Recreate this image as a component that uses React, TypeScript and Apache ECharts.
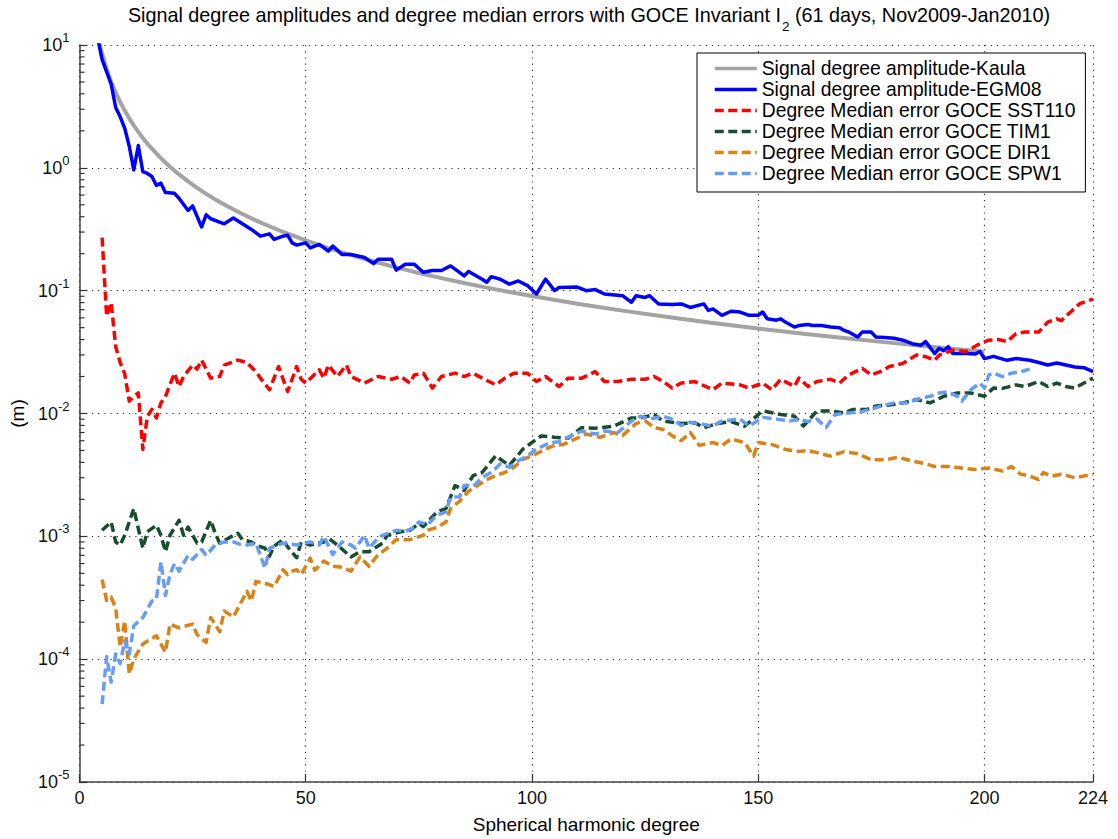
import React, { useEffect, useRef } from "react";
import * as echarts from "echarts";

// Kaula rule of thumb, signal degree amplitude (m)
const kaulaDeg = [4, 5, 6, 7, 8, 9, 10, 11, 12, 13, 14, 15, 16, 18, 20, 22, 24, 26, 28, 30, 33, 36, 40, 45, 50, 55, 60, 65, 70, 75, 80, 85, 90, 95, 100, 110, 120, 130, 140, 150, 160, 170, 180, 190, 200];
const kaulaVal = [11.96, 8.46, 6.39, 5.04, 4.11, 3.432, 2.923, 2.528, 2.215, 1.961, 1.752, 1.578, 1.431, 1.197, 1.021, 0.884, 0.775, 0.687, 0.614, 0.5535, 0.4794, 0.4205, 0.3588, 0.3004, 0.2564, 0.2221, 0.1949, 0.1728, 0.1546, 0.1393, 0.1265, 0.1154, 0.1059, 0.09767, 0.09042, 0.07836, 0.06876, 0.06097, 0.05455, 0.04918, 0.04464, 0.04075, 0.0374, 0.03449, 0.0319];

// EGM08 signal degree amplitude (m)
const egmDeg = [4, 5, 7, 8, 9, 10, 11, 12, 13, 14, 15, 16, 17, 18, 19, 21, 22, 24, 25, 27, 28, 29, 32, 34, 36, 38, 40, 42, 43, 45, 46, 47, 48, 50, 51, 53, 55, 56, 58, 60, 62, 63, 65, 66, 69, 70, 72, 74, 76, 78, 80, 82, 84, 85, 86, 89, 90, 91, 93, 95, 97, 99, 101, 103, 105, 106, 110, 112, 114, 116, 120, 122, 123, 125, 126, 128, 131, 133, 135, 138, 139, 140, 142, 144, 146, 148, 150, 151, 152, 154, 155, 156, 158, 159, 161, 162, 164, 166, 168, 169, 170, 172, 173, 175, 176, 178, 180, 182, 184, 186, 187, 189, 190, 191, 192, 193, 196, 198, 199, 200, 202, 205, 207, 210, 212, 214, 216, 218, 220, 222, 224];
const egmVal = [11.5, 7.6, 4.8, 3.1, 2.6, 2.1, 1.5, 0.96, 1.52, 0.93, 0.9, 0.85, 0.72, 0.75, 0.63, 0.62, 0.565, 0.45, 0.49, 0.33, 0.415, 0.385, 0.35, 0.39, 0.35, 0.315, 0.278, 0.29, 0.262, 0.278, 0.283, 0.245, 0.235, 0.245, 0.223, 0.238, 0.21, 0.231, 0.197, 0.197, 0.19, 0.186, 0.166, 0.18, 0.18, 0.147, 0.164, 0.164, 0.141, 0.146, 0.146, 0.159, 0.141, 0.132, 0.143, 0.124, 0.117, 0.13, 0.124, 0.113, 0.12, 0.11, 0.094, 0.124, 0.1, 0.106, 0.107, 0.1, 0.102, 0.094, 0.091, 0.0805, 0.091, 0.088, 0.091, 0.078, 0.077, 0.078, 0.073, 0.078, 0.069, 0.071, 0.063, 0.068, 0.067, 0.063, 0.063, 0.067, 0.059, 0.0575, 0.059, 0.0555, 0.0506, 0.052, 0.053, 0.052, 0.052, 0.0506, 0.05, 0.0475, 0.0461, 0.042, 0.046, 0.046, 0.042, 0.0415, 0.041, 0.0395, 0.037, 0.036, 0.0385, 0.0308, 0.0339, 0.0324, 0.035, 0.0308, 0.0308, 0.0305, 0.032, 0.028, 0.0292, 0.0271, 0.028, 0.0271, 0.026, 0.0248, 0.0258, 0.0248, 0.0239, 0.0236, 0.0219];

// GOCE SST110 degree median error (m)
const sstDeg = [5, 6, 7, 8, 9, 10, 11, 12, 13, 14, 15, 16, 17, 18, 19, 21, 22, 23, 25, 26, 27, 29, 31, 32, 35, 37, 39, 40, 42, 44, 45, 46, 48, 49, 50, 53, 54, 55, 57, 59, 60, 63, 66, 69, 71, 73, 74, 76, 78, 80, 83, 85, 87, 89, 92, 94, 96, 99, 101, 103, 106, 108, 111, 114, 116, 119, 122, 125, 127, 129, 131, 133, 136, 140, 142, 146, 148, 151, 153, 155, 158, 159, 161, 163, 166, 168, 170, 173, 175, 177, 179, 182, 185, 187, 189, 190, 193, 196, 199, 201, 203, 205, 207, 209, 212, 214, 216, 217, 219, 221, 224];
const sstVal = [0.27, 0.062, 0.08, 0.035, 0.026, 0.021, 0.0126, 0.0138, 0.0147, 0.0051, 0.0095, 0.0108, 0.0092, 0.0122, 0.0138, 0.0213, 0.0166, 0.02, 0.0248, 0.023, 0.0272, 0.0194, 0.02, 0.0248, 0.0272, 0.026, 0.0219, 0.0194, 0.0156, 0.0241, 0.019, 0.0151, 0.0241, 0.019, 0.0177, 0.0227, 0.0194, 0.0248, 0.02, 0.0248, 0.02, 0.0177, 0.02, 0.019, 0.02, 0.0177, 0.0206, 0.0213, 0.0161, 0.02, 0.0213, 0.02, 0.0213, 0.0194, 0.0171, 0.0194, 0.0213, 0.0213, 0.0182, 0.02, 0.0166, 0.0194, 0.0194, 0.0219, 0.0182, 0.0182, 0.019, 0.019, 0.02, 0.0182, 0.0161, 0.0177, 0.0182, 0.0156, 0.0177, 0.0171, 0.0161, 0.0177, 0.0156, 0.019, 0.0166, 0.0194, 0.0166, 0.0182, 0.019, 0.0177, 0.0206, 0.0233, 0.0206, 0.0219, 0.0241, 0.0256, 0.0299, 0.029, 0.0271, 0.0299, 0.0328, 0.032, 0.037, 0.0395, 0.04, 0.0385, 0.0447, 0.046, 0.046, 0.0555, 0.059, 0.057, 0.0668, 0.078, 0.0855];

// GOCE TIM1 degree median error (m)
const timDeg = [5, 7, 8, 9, 10, 12, 13, 14, 15, 17, 18, 19, 20, 22, 23, 24, 26, 27, 29, 30, 31, 33, 35, 36, 38, 39, 41, 42, 43, 45, 46, 48, 49, 51, 54, 55, 57, 60, 62, 64, 67, 68, 71, 73, 75, 76, 79, 81, 83, 85, 87, 89, 92, 95, 98, 102, 105, 108, 111, 114, 118, 122, 124, 127, 129, 133, 136, 138, 141, 144, 147, 151, 155, 158, 160, 163, 166, 169, 171, 174, 176, 179, 182, 185, 188, 191, 194, 197, 200, 202, 204, 207, 209, 212, 214, 216, 218, 220, 222, 224];
const timVal = [0.00112, 0.00131, 0.0009, 0.00085, 0.00102, 0.00168, 0.00116, 0.0008, 0.00109, 0.00123, 0.00102, 0.00075, 0.00102, 0.00135, 0.00102, 0.00119, 0.00088, 0.0009, 0.00135, 0.00106, 0.00088, 0.00097, 0.00106, 0.00094, 0.0009, 0.00085, 0.0008, 0.00069, 0.00083, 0.00094, 0.00082, 0.00067, 0.0009, 0.00085, 0.0009, 0.00097, 0.00085, 0.00068, 0.00075, 0.00075, 0.00088, 0.00102, 0.00109, 0.00112, 0.00127, 0.0012, 0.00158, 0.00168, 0.00259, 0.00236, 0.00312, 0.00331, 0.00453, 0.00376, 0.00513, 0.00656, 0.0064, 0.0063, 0.00766, 0.0076, 0.00788, 0.0092, 0.0092, 0.0098, 0.00867, 0.0083, 0.0084, 0.00766, 0.0083, 0.0086, 0.00788, 0.0105, 0.0098, 0.0095, 0.0079, 0.0105, 0.0105, 0.0101, 0.0108, 0.0108, 0.0115, 0.0117, 0.0122, 0.013, 0.0122, 0.0138, 0.0147, 0.0147, 0.0138, 0.0161, 0.016, 0.0171, 0.0166, 0.0182, 0.0166, 0.0177, 0.0166, 0.0161, 0.0177, 0.0194];

// GOCE DIR1 degree median error (m)
const dirDeg = [5, 6, 7, 8, 9, 10, 11, 12, 14, 17, 19, 20, 22, 25, 26, 28, 29, 31, 32, 34, 37, 38, 39, 42, 43, 45, 46, 47, 48, 49, 51, 52, 54, 56, 58, 60, 62, 64, 66, 68, 70, 73, 76, 77, 79, 81, 82, 84, 86, 88, 90, 92, 94, 96, 98, 100, 101, 103, 105, 107, 110, 112, 115, 118, 120, 123, 125, 127, 129, 131, 133, 135, 137, 140, 142, 144, 147, 149, 150, 153, 156, 159, 161, 163, 166, 169, 172, 175, 178, 181, 184, 187, 189, 192, 195, 198, 201, 204, 206, 208, 210, 212, 213, 215, 217, 220, 222, 224];
const dirVal = [0.000445, 0.0003, 0.00032, 0.00026, 0.000125, 0.000205, 0.000076, 0.0001, 0.000133, 0.000155, 0.000114, 0.000193, 0.00018, 0.000193, 0.000158, 0.000137, 0.000218, 0.000167, 0.000247, 0.00022, 0.000357, 0.000297, 0.00043, 0.000405, 0.00039, 0.000535, 0.000488, 0.00052, 0.000535, 0.000488, 0.000665, 0.00053, 0.00063, 0.00057, 0.00056, 0.00052, 0.00068, 0.00057, 0.00071, 0.0008, 0.00094, 0.00094, 0.00102, 0.00112, 0.00118, 0.00131, 0.00168, 0.00193, 0.00233, 0.00259, 0.0029, 0.00313, 0.00331, 0.00365, 0.00424, 0.00453, 0.0047, 0.00513, 0.0055, 0.0056, 0.0063, 0.0068, 0.0064, 0.007, 0.0066, 0.0083, 0.0087, 0.0077, 0.0074, 0.0066, 0.006, 0.007, 0.0055, 0.0058, 0.0055, 0.0062, 0.0058, 0.0045, 0.0058, 0.0056, 0.0051, 0.0049, 0.005, 0.0048, 0.0045, 0.0049, 0.0047, 0.0042, 0.0042, 0.0044, 0.0041, 0.0039, 0.0037, 0.0037, 0.0036, 0.0035, 0.0036, 0.0034, 0.0037, 0.0032, 0.0031, 0.0029, 0.0033, 0.0031, 0.0032, 0.003, 0.0031, 0.0032];

// GOCE SPW1 degree median error (m)
const spwDeg = [5, 6, 7, 8, 9, 10, 11, 12, 14, 16, 17, 18, 19, 20, 21, 22, 24, 25, 27, 28, 30, 32, 34, 36, 37, 39, 41, 42, 44, 45, 48, 51, 53, 54, 56, 58, 60, 61, 63, 64, 66, 67, 70, 72, 74, 75, 77, 79, 81, 82, 84, 85, 87, 89, 91, 93, 95, 97, 99, 101, 104, 106, 108, 111, 114, 116, 119, 122, 124, 126, 129, 131, 133, 135, 140, 142, 146, 148, 151, 154, 157, 159, 161, 163, 165, 167, 170, 173, 175, 177, 180, 183, 185, 188, 190, 192, 194, 195, 197, 199, 200, 201, 202, 204, 206, 208, 210];
const spwVal = [0.000043, 0.000105, 0.000065, 0.00011, 0.000092, 0.000141, 0.00011, 0.000187, 0.000218, 0.000297, 0.000305, 0.00062, 0.00033, 0.00049, 0.0006, 0.00052, 0.0007, 0.00065, 0.00078, 0.0007, 0.00085, 0.0009, 0.0009, 0.00085, 0.00085, 0.00088, 0.00055, 0.0008, 0.00085, 0.00088, 0.00085, 0.0009, 0.00085, 0.001, 0.00071, 0.0009, 0.00085, 0.0008, 0.00102, 0.0008, 0.00097, 0.00102, 0.00112, 0.0011, 0.00118, 0.00131, 0.00125, 0.00149, 0.00158, 0.00208, 0.0021, 0.00259, 0.00255, 0.00302, 0.00331, 0.00388, 0.00365, 0.00412, 0.00453, 0.00513, 0.00579, 0.0059, 0.0064, 0.0072, 0.0068, 0.0072, 0.007, 0.0087, 0.0095, 0.009, 0.0095, 0.009, 0.008, 0.0085, 0.0079, 0.0087, 0.009, 0.0079, 0.0093, 0.009, 0.0087, 0.009, 0.0086, 0.009, 0.0077, 0.0098, 0.0101, 0.0104, 0.0108, 0.0115, 0.0122, 0.0122, 0.013, 0.0138, 0.0147, 0.015, 0.0138, 0.0126, 0.0156, 0.0177, 0.0161, 0.0206, 0.0213, 0.02, 0.0213, 0.0219, 0.023];

// Axis ticks
const xTickInterval = 50;
const xMin = 0;
const xMax = 224;
const yMin = 1e-5;
const yMax = 10;
const minorMultipliers = [2, 3, 4, 5, 6, 7, 8, 9];
const minorDecades = [1e-5, 1e-4, 1e-3, 1e-2, 1e-1, 1];

const FONT = "'Liberation Sans', Arial, Helvetica, sans-serif";

const seriesDefs = [
  { name: "Signal degree amplitude-Kaula", deg: kaulaDeg, val: kaulaVal, color: "#a3a3a3", width: 4, dashed: false },
  { name: "Signal degree amplitude-EGM08", deg: egmDeg, val: egmVal, color: "#0000ff", width: 3.5, dashed: false },
  { name: "Degree Median error GOCE SST110", deg: sstDeg, val: sstVal, color: "#ff0000", width: 3.5, dashed: true },
  { name: "Degree Median error GOCE TIM1", deg: timDeg, val: timVal, color: "#174c2c", width: 3.5, dashed: true },
  { name: "Degree Median error GOCE DIR1", deg: dirDeg, val: dirVal, color: "#db8216", width: 3.5, dashed: true },
  { name: "Degree Median error GOCE SPW1", deg: spwDeg, val: spwVal, color: "#669cf4", width: 3.5, dashed: true },
];

export default function App() {
  const ref = useRef<HTMLDivElement>(null);

  useEffect(() => {
    document.body.style.margin = "0";
    if (!ref.current) return;
    const chart = echarts.init(ref.current, undefined, { renderer: "svg" });

    const minorTicks: number[][] = [];
    minorDecades.forEach((d) => minorMultipliers.forEach((m) => minorTicks.push([0, d * m])));

    const lines = seriesDefs.map((s) => ({
      name: s.name,
      type: "line",
      data: s.deg.map((d, i) => [d, s.val[i]]),
      symbol: "none",
      clip: true,
      lineStyle: {
        color: s.color,
        width: s.width,
        type: s.dashed ? [9, 4.5] : "solid",
        cap: "butt",
        join: "round",
      },
      itemStyle: { color: s.color },
      emphasis: { disabled: true },
      z: 3,
    }));

    const option: any = {
      animation: false,
      backgroundColor: "#ffffff",
      textStyle: { fontFamily: FONT },
      title: {
        left: 589,
        top: 5,
        padding: 0,
        textAlign: "center",
        text: "{a|Signal degree amplitudes and degree median errors with GOCE Invariant I}{s|2}{a| (61 days, Nov2009-Jan2010)}",
        textStyle: {
          fontFamily: FONT,
          fontWeight: "normal",
          rich: {
            a: { fontFamily: FONT, fontSize: 19.8, fontWeight: "normal", color: "#000", lineHeight: 22, verticalAlign: "top" },
            s: { fontFamily: FONT, fontSize: 13.5, fontWeight: "normal", color: "#000", lineHeight: 13, padding: [14, 0, 0, 1], verticalAlign: "top" },
          },
        },
      },
      legend: {
        orient: "vertical",
        left: 697,
        top: 53,
        padding: [6, 10, 9, 16],
        itemGap: 2,
        itemWidth: 42,
        itemHeight: 12,
        backgroundColor: "#ffffff",
        borderColor: "#000000",
        borderWidth: 1,
        borderRadius: 0,
        selectedMode: false,
        data: seriesDefs.map((s) => s.name),
        itemStyle: { color: "rgba(0,0,0,0)", opacity: 0, borderWidth: 0 },
        lineStyle: { width: 3.5 },
        textStyle: { fontFamily: FONT, fontSize: 19.3, color: "#000" },
        z: 10,
      },
      grid: { left: 76, top: 45, right: 25, bottom: 50, containLabel: false },
      xAxis: {
        type: "value",
        min: xMin,
        max: xMax,
        interval: xTickInterval,
        name: "Spherical harmonic degree",
        nameLocation: "middle",
        nameGap: 33,
        nameTextStyle: { fontFamily: FONT, fontSize: 19, color: "#000" },
        axisLine: { show: true, onZero: false, lineStyle: { color: "#444", width: 1.5 } },
        axisTick: { show: true, inside: true, length: 8, lineStyle: { color: "#333", width: 1.2 } },
        axisLabel: { fontFamily: FONT, fontSize: 18, color: "#111", margin: 7, showMaxLabel: true, showMinLabel: true },
        splitLine: { show: true, lineStyle: { color: "#333", width: 1.2, type: [1.2, 5] } },
      },
      yAxis: {
        type: "log",
        logBase: 10,
        min: yMin,
        max: yMax,
        name: "(m)",
        nameLocation: "middle",
        nameGap: 43,
        nameTextStyle: { fontFamily: FONT, fontSize: 19, color: "#000" },
        axisLine: { show: true, onZero: false, lineStyle: { color: "#444", width: 1.5 } },
        axisTick: { show: true, inside: true, length: 8, lineStyle: { color: "#333", width: 1.2 } },
        axisLabel: {
          margin: 10,
          formatter: (v: number) => `{b|10}{s|${Math.round(Math.log10(v))}}`,
          rich: {
            b: { fontFamily: FONT, fontSize: 18, color: "#111", lineHeight: 28, verticalAlign: "middle" },
            s: { fontFamily: FONT, fontSize: 13, color: "#111", lineHeight: 13, verticalAlign: "top" },
          },
        },
        splitLine: { show: true, lineStyle: { color: "#333", width: 1.2, type: [1.2, 5] } },
      },
      series: [
        ...lines,
        {
          name: "minor ticks",
          type: "custom",
          data: minorTicks,
          encode: { x: 0, y: 1 },
          silent: true,
          clip: false,
          z: 4,
          renderItem: (params: any, api: any) => {
            const p = api.coord([xMin, api.value(1)]);
            return {
              type: "line",
              shape: { x1: p[0], y1: p[1], x2: p[0] + 5, y2: p[1] },
              style: { stroke: "#333", lineWidth: 1.2 },
            };
          },
        },
      ],
    };

    chart.setOption(option);
    return () => chart.dispose();
  }, []);

  return <div ref={ref} style={{ width: 1118, height: 839 }} />;
}
